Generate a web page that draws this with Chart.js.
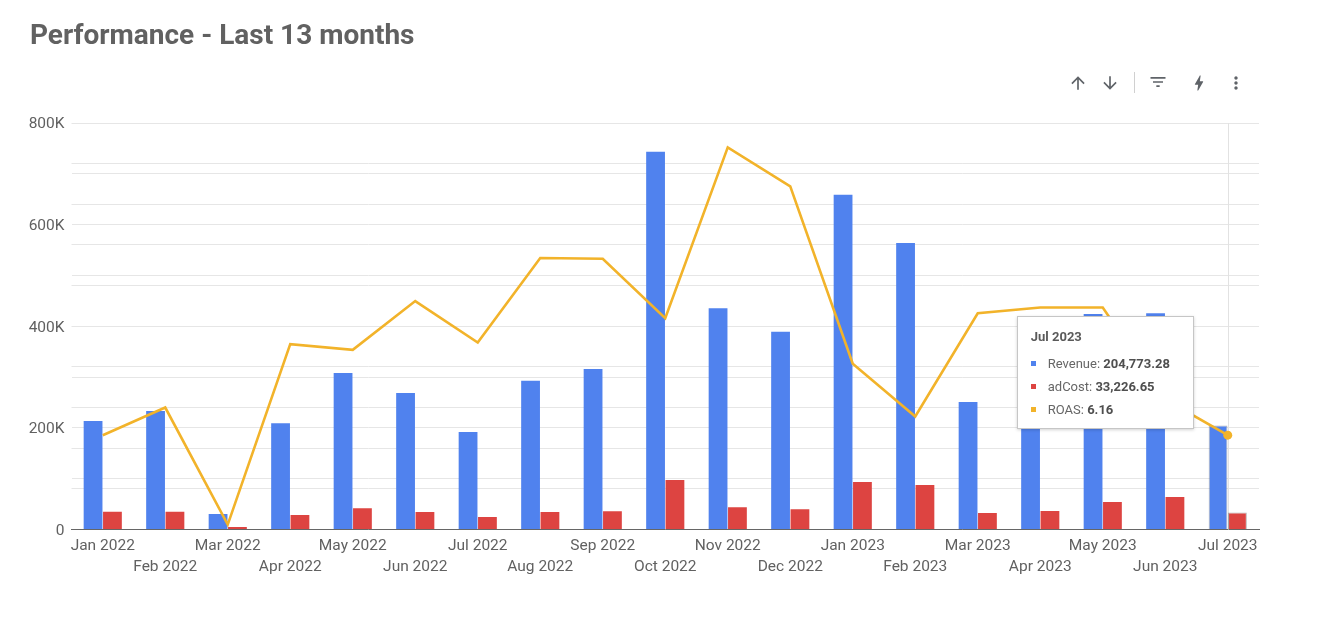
<!DOCTYPE html>
<html>
<head>
<meta charset="utf-8">
<script src="https://cdn.jsdelivr.net/npm/chart.js@4.4.0/dist/chart.umd.min.js"></script>
<style>
html,body{margin:0;padding:0;background:#fff;width:1322px;height:635px;overflow:hidden;font-family:Roboto,"Noto Sans",sans-serif;}
#wrap{position:absolute;left:0;top:0;width:1322px;height:635px;}
#c{position:absolute;left:0;top:0;}
#title{position:absolute;left:30px;top:21px;font:700 28px/28px Roboto,sans-serif;color:#616161;white-space:nowrap;}
.ic{position:absolute;width:20px;height:20px;}
.ic svg{width:20px;height:20px;display:block;}
#sep{position:absolute;left:1134px;top:72px;width:1px;height:21px;background:#d0d0d0;}
#tip{position:absolute;width:175px;height:111px;background:#fff;border:1px solid #c6c6c6;box-shadow:0 1px 3px rgba(0,0,0,0.18);font-family:Roboto,sans-serif;}
#tip .tt{position:absolute;left:13px;top:12px;font:700 13px/16px Roboto,sans-serif;color:#5a5a5a;white-space:nowrap;}
#tip .row{position:absolute;left:13px;height:16px;font:400 13px/16px Roboto,sans-serif;color:#666;white-space:nowrap;}
#tip .row b{color:#4f4f4f;font-weight:700;}
#tip .sw{position:absolute;left:0;top:5px;width:5px;height:5px;}
#tip .lb{position:absolute;left:17px;top:0;}
</style>
</head>
<body>
<div id="wrap">
  <canvas id="c" width="1322" height="635"></canvas>
  <div id="title">Performance - Last 13 months</div>
  <div class="ic" style="left:1068px;top:73px"><svg viewBox="0 0 24 24"><path fill="#5f6368" d="M4 12l1.41 1.41L11 7.83V20h2V7.83l5.58 5.59L20 12l-8-8-8 8z"/></svg></div>
  <div class="ic" style="left:1100px;top:73px"><svg viewBox="0 0 24 24"><path fill="#5f6368" d="M20 12l-1.41-1.41L13 16.17V4h-2v12.17l-5.58-5.59L4 12l8 8 8-8z"/></svg></div>
  <div id="sep"></div>
  <div class="ic" style="left:1148px;top:72px"><svg viewBox="0 0 24 24"><path fill="#5f6368" d="M10 18h4v-2h-4v2zM3 6v2h18V6H3zm3 7h12v-2H6v2z"/></svg></div>
  <div class="ic" style="left:1189px;top:73px"><svg viewBox="0 0 24 24"><path fill="#5f6368" d="M11 21h-1l1-7H7.5c-.58 0-.57-.32-.38-.66.19-.34.05-.08.07-.12C8.48 10.94 10.42 7.54 13 3h1l-1 7h3.5c.49 0 .56.33.47.51l-.07.15C12.96 17.55 11 21 11 21z"/></svg></div>
  <div class="ic" style="left:1226px;top:73px"><svg viewBox="0 0 24 24"><path fill="#5f6368" d="M12 8c1.1 0 2-.9 2-2s-.9-2-2-2-2 .9-2 2 .9 2 2 2zm0 2c-1.1 0-2 .9-2 2s.9 2 2 2 2-.9 2-2-.9-2-2-2zm0 6c-1.1 0-2 .9-2 2s.9 2 2 2 2-.9 2-2-.9-2-2-2z"/></svg></div>
  <div id="tip"></div>
</div>
<script>
// ---- data ----
const months = ['Jan 2022','Feb 2022','Mar 2022','Apr 2022','May 2022','Jun 2022','Jul 2022','Aug 2022','Sep 2022','Oct 2022','Nov 2022','Dec 2022','Jan 2023','Feb 2023','Mar 2023','Apr 2023','May 2023','Jun 2023','Jul 2023'];
const revenue = [213700, 233400, 30500, 209000, 308000, 268800, 192000, 292500, 316000, 743500, 435600, 389000, 658800, 564000, 251000, 281000, 424000, 425800, 204773.28];
const adCost = [35000, 35000, 5000, 28600, 42000, 34500, 24600, 34500, 36000, 97500, 44000, 40000, 93500, 87600, 32500, 36400, 54000, 64000, 33226.65];
const roas = [6.16, 6.50, 5.06, 7.28, 7.21, 7.81, 7.30, 8.34, 8.33, 7.60, 9.70, 9.22, 7.04, 6.39, 7.66, 7.73, 7.73, 6.60, 6.16];
const yTickValues = [0, 200000, 400000, 600000, 800000];
const yTickLabels = ['0', '200K', '400K', '600K', '800K'];
const seriesNames = ['Revenue', 'adCost', 'ROAS'];

const BLUE = '#5082EE', RED = '#DD4441', GOLD = '#F2B32A';
const GRID = '#e6e6e6', TICK = '#616161';
const HI = months.length - 1; // highlighted (hovered) month
const tickFont = {family: 'Roboto', size: 15.5, lineHeight: 1.35};

const crosshair = {
  id: 'crosshair',
  beforeDatasetsDraw(chart) {
    const {ctx, chartArea} = chart;
    const x = Math.round(chart.scales.x.getPixelForValue(HI)) + 0.5;
    ctx.save();
    ctx.strokeStyle = '#e2e2e2';
    ctx.lineWidth = 1;
    ctx.beginPath();
    ctx.moveTo(x, chartArea.top);
    ctx.lineTo(x, chartArea.bottom);
    ctx.stroke();
    ctx.restore();
  }
};

const hiBorder = c => c.dataIndex === HI ? 1 : 0;

const chart = new Chart(document.getElementById('c'), {
  data: {
    labels: months,
    datasets: [
      {type: 'line', label: seriesNames[2], data: roas, yAxisID: 'y1', order: 0,
       borderColor: GOLD, backgroundColor: GOLD, borderWidth: 2.6, tension: 0,
       pointRadius: c => c.dataIndex === HI ? 4.5 : 0, pointBorderWidth: 0, pointHoverRadius: 0},
      {type: 'bar', label: seriesNames[0], data: revenue, yAxisID: 'y', order: 1,
       backgroundColor: BLUE, categoryPercentage: 0.62, barPercentage: 0.97,
       borderWidth: hiBorder, borderColor: 'rgba(90,90,90,0.45)'},
      {type: 'bar', label: seriesNames[1], data: adCost, yAxisID: 'y', order: 2,
       backgroundColor: RED, categoryPercentage: 0.62, barPercentage: 0.97,
       borderWidth: hiBorder, borderColor: 'rgba(90,90,90,0.45)'}
    ]
  },
  options: {
    responsive: false,
    animation: false,
    events: [],
    layout: {padding: {top: 123, right: 63, bottom: 0, left: 0}},
    plugins: {legend: {display: false}, tooltip: {enabled: false}, title: {display: false}},
    scales: {
      x: {
        offset: true,
        grid: {display: false, drawTicks: false},
        border: {display: true, color: '#666', width: 1},
        ticks: {autoSkip: false, maxRotation: 0, minRotation: 0, padding: 6, color: TICK, font: tickFont,
                callback: (v, i) => i % 2 ? ['', months[i]] : months[i]},
        afterFit: s => { s.height = 105.5; }
      },
      y: {
        position: 'left', min: 0, max: 800000,
        grid: {color: GRID, drawTicks: false},
        border: {display: false},
        ticks: {stepSize: 100000, padding: 7, labelOffset: 1.5, color: TICK, font: tickFont,
                callback: v => { const k = yTickValues.indexOf(v); return k >= 0 ? yTickLabels[k] : ''; }},
        afterFit: s => { s.width = 71.5; }
      },
      y1: {
        position: 'right', min: 5, max: 10,
        grid: {color: GRID, drawTicks: false},
        border: {display: false},
        ticks: {stepSize: 0.5, display: false},
        afterFit: s => { s.width = 0; }
      }
    }
  },
  plugins: [crosshair]
});

// ---- tooltip for the highlighted month ----
const fmt2 = n => n.toLocaleString('en-US', {minimumFractionDigits: 2, maximumFractionDigits: 2});
const tip = document.getElementById('tip');
const rows = [
  [seriesNames[0], fmt2(revenue[HI]), BLUE],
  [seriesNames[1], fmt2(adCost[HI]), RED],
  [seriesNames[2], roas[HI].toFixed(2), GOLD]
];
let html = '<div class="tt">' + months[HI] + '</div>';
rows.forEach((r, i) => {
  html += '<div class="row" style="top:' + (39 + i * 23) + 'px"><div class="sw" style="background:' + r[2] + '"></div><div class="lb">' + r[0] + ': <b>' + r[1] + '</b></div></div>';
});
tip.innerHTML = html;
const px = chart.scales.x.getPixelForValue(HI);
const py = chart.scales.y1.getPixelForValue(roas[HI]);
tip.style.left = (px - 211) + 'px';
tip.style.top = (py - 119) + 'px';
</script>
</body>
</html>
